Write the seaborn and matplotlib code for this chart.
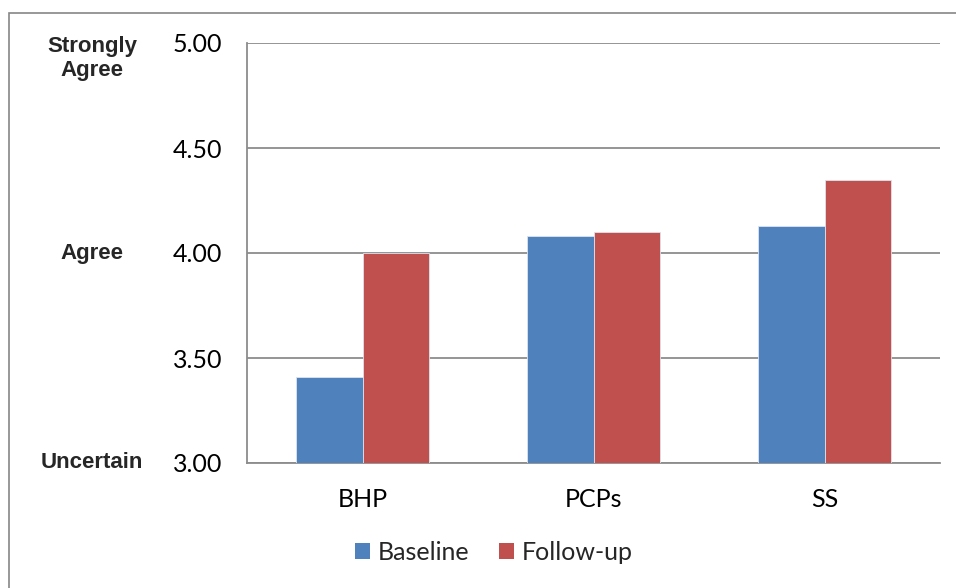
import matplotlib
matplotlib.use("Agg")
import matplotlib.pyplot as plt
import matplotlib.patches as mpatches
import matplotlib.transforms as mtransforms
import seaborn as sns
import pandas as pd

categories = ["BHP", "PCPs", "SS"]
baseline = [3.41, 4.08, 4.13]
followup = [4.00, 4.10, 4.35]
series_names = ["Baseline", "Follow-up"]
y_ticks = [3.00, 3.50, 4.00, 4.50, 5.00]
level_labels = [(5.00, "Strongly\nAgree"), (4.00, "Agree"), (3.00, "Uncertain")]

df = pd.DataFrame({
    "cat": categories * 2,
    "series": [series_names[0]] * 3 + [series_names[1]] * 3,
    "value": baseline + followup,
})

sns.set_theme(style="white")
plt.rcParams["font.family"] = ["Lato", "DejaVu Sans"]

W, H = 956, 588
fig = plt.figure(figsize=(W / 100, H / 100), dpi=100)
ax = fig.add_axes([247 / W, 1 - 463 / H, 693 / W, 420 / H])

colors = ["#4F81BD", "#C0504D"]
sns.barplot(data=df, x="cat", y="value", hue="series", palette=colors,
            width=0.58, saturation=1, ax=ax, legend=False,
            edgecolor="#DCE3EE", linewidth=0.6, zorder=3)

ax.set_ylim(3.0, 5.0)
ax.set_xlim(-0.5, 2.5)
ax.set_yticks(y_ticks)
ax.set_yticklabels([f"{v:.2f}" for v in y_ticks], fontsize=18)
ax.set_xticks(range(len(categories)))
ax.set_xticklabels(categories, fontsize=18)
ax.set_xlabel("")
ax.set_ylabel("")
ax.tick_params(axis="y", length=0, pad=18, colors="#000000")
ax.tick_params(axis="x", length=0, pad=18, colors="#000000")

grid_c = "#8C8C8C"
ax.yaxis.grid(True, color=grid_c, linewidth=1.3, zorder=0)
ax.set_axisbelow(True)
for s in ["top", "right"]:
    ax.spines[s].set_visible(False)
for s in ["left", "bottom"]:
    ax.spines[s].set_color(grid_c)
    ax.spines[s].set_linewidth(1.3)

trans = mtransforms.blended_transform_factory(fig.transFigure, ax.transData)
for val, lab in level_labels:
    yy = val
    if "\n" in lab:
        yy = 4.926
    ax.text(92 / W, yy, lab, transform=trans, ha="center", va="center",
            fontsize=16, fontweight="bold", family=["Liberation Sans", "DejaVu Sans"],
            linespacing=1.15)

handles = [mpatches.Patch(facecolor=c, edgecolor="none") for c in colors]
fig.legend(handles, series_names, loc="center", bbox_to_anchor=(494 / W, 1 - 552 / H),
           ncol=2, frameon=False, fontsize=18, handlelength=0.6, handleheight=0.6,
           handletextpad=0.3, columnspacing=1.2)

frame = mpatches.Rectangle((8.5 / W, -0.05), 1.1, 1 - 13 / H + 0.05,
                           transform=fig.transFigure, fill=False,
                           edgecolor="#868686", linewidth=1.2)
fig.patches.append(frame)

fig.savefig("out.png", dpi=100)
